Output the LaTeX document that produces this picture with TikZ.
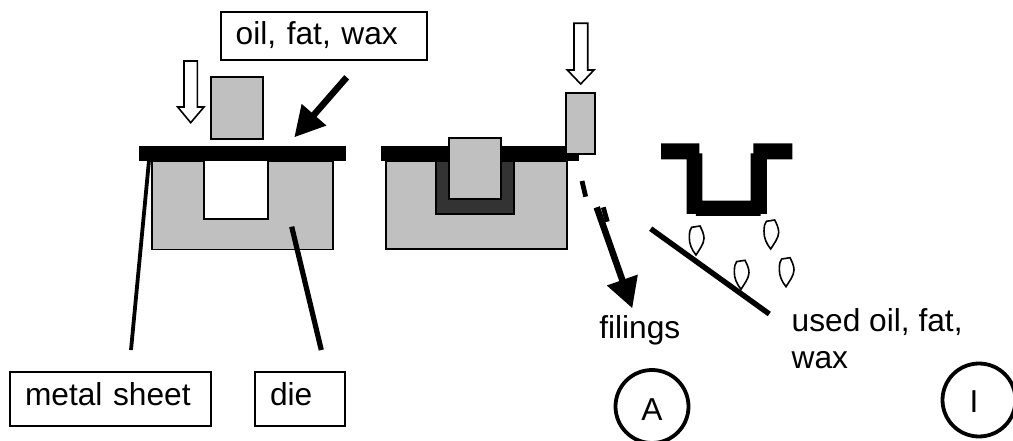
\documentclass[tikz,border=0pt]{standalone}
\usepackage{fontspec}
\setmainfont{Liberation Sans}
\usetikzlibrary{arrows.meta}
\definecolor{partgray}{HTML}{C0C0C0}
\definecolor{darkfill}{HTML}{333333}
\tikzset{
  part/.style={draw=black,line width=1.7pt,fill=partgray,line join=miter},
  solidbar/.style={fill=black,draw=none},
  hollowarrow/.style={draw=black,line width=1.6pt,fill=white,line join=miter},
  labelbox/.style={draw=black,line width=2pt,inner xsep=0pt,inner ysep=0pt,outer sep=0pt,align=left,font=\fontsize{31.7}{37}\selectfont},
  plain/.style={inner sep=0pt,outer sep=0pt,font=\fontsize{31.7}{37}\selectfont},
  stepcircle/.style={draw=black,line width=3.8pt,circle,inner sep=0pt,minimum size=73pt,font=\fontsize{31.7}{37}\selectfont},
  leader/.style={line width=3.8pt,draw=black},
  leaderthick/.style={line width=5.2pt,draw=black},
  boldarrow/.style={line width=6.5pt,draw=black,-{Triangle[length=30pt,width=31pt]}},
  thinbar/.style={line width=4.8pt,draw=black},
  drop/.pic={\draw[line width=1.6pt,fill=white] (0,0) .. controls (-4,-5) and (-7,-11) .. (-6.7,-18) .. controls (-6.5,-23) and (-6,-26) .. (-4.3,-27.7) -- (4,-29) .. controls (6,-25) and (8,-21) .. (8,-16.7) .. controls (8,-11) and (3,-5) .. (0,0) -- cycle;}
}
\begin{document}
\begin{tikzpicture}[x=1pt,y=-1pt]
\clip (0,0) rectangle (1013,441);
\fill[white] (0,0) rectangle (1013,441);
% labels
\node[labelbox,text width=206.6pt,text height=33pt,text depth=15pt,anchor=north west] (oil) at (220.7,12) {\hspace*{15pt}oil, fat, wax};
\node[labelbox,text width=201.3pt,text height=33.3pt,text depth=21pt,anchor=north west] (metal) at (10,371.7) {\hspace*{15pt}metal sheet};
\node[labelbox,text width=90.3pt,text height=33.3pt,text depth=21pt,anchor=north west] (die) at (255,371.7) {\hspace*{15pt}die};
\node[plain,anchor=base west] (filings) at (599.3,338.3) {filings};
\node[plain,anchor=base west] (used1) at (791.7,331) {used oil, fat,};
\node[plain,anchor=base west] (used2) at (791.7,368.3) {wax};
\node[stepcircle,text height=27pt,text depth=0pt] (stepA) at (652,406.5) {A};
\node[stepcircle,text height=25.4pt,text depth=0pt] (stepI) at (979,400) {I\kern10pt};
% left die
\draw[part] (152.3,161) rectangle (332.7,249.5);
\draw[line width=1.7pt,fill=white] (203.7,158) rectangle (268.3,219.3);
\coordinate (metalTop) at (150,150);
\coordinate (metalEnd) at (131,350);
\coordinate (dieTop) at (291.7,226.7);
\coordinate (dieEnd) at (321.3,350);
\draw[leader] (metalTop) -- (metalEnd);
\draw[leaderthick] (dieTop) -- (dieEnd);
\fill[solidbar] (139.3,145.7) rectangle (345.7,161);
\draw[part] (210.7,77) rectangle (263.3,139);
\draw[hollowarrow] (184,61) -- (197.3,61) -- (197.3,107) -- (204,107) -- (190.7,122.7) -- (177.7,107) -- (184,107) -- cycle;
\coordinate (oilFrom) at (346.7,77.3);
\coordinate (oilTip) at (294.3,137.3);
\draw[boldarrow] (oilFrom) -- (oilTip);
% middle die
\draw[part] (385.7,161) rectangle (566.7,249.3);
\fill[solidbar] (380.7,145.7) rectangle (579.3,161);
\draw[draw=black,line width=1.7pt,fill=darkfill] (436,161) rectangle (514,214.3);
\draw[part] (449,137.7) rectangle (500.7,199);
\draw[part] (566,93) rectangle (595.3,154.3);
\draw[hollowarrow] (574,23.3) -- (587.7,23.3) -- (587.7,70) -- (594,70) -- (580.7,84) -- (567.3,70) -- (574,70) -- cycle;
% filings
\coordinate (dashA) at (582,181);
\coordinate (dashB) at (585.7,196.7);
\coordinate (dashC) at (603.3,207.3);
\coordinate (dashD) at (607.3,221.7);
\coordinate (filFrom) at (596.7,207.3);
\coordinate (filTip) at (632.3,308.3);
\draw[thinbar] (dashA) -- (dashB);
\draw[thinbar] (dashC) -- (dashD);
\draw[boldarrow] (filFrom) -- (filTip);
% stamped part
\begin{scope}[shift={(630,130)},x=0.3333pt,y=-0.3333pt]
\fill[solidbar] (93,40) -- (208,40) -- (208,70) -- (217,70) -- (217,212) -- (362,212) -- (362,70) -- (370,70) -- (370,40) -- (487,40) -- (487,88) -- (411,88) -- (411,252) -- (392,252) -- (392,258) -- (198,258) -- (198,252) -- (170,252) -- (170,88) -- (93,88) -- cycle;
\end{scope}
\foreach \p in {(696,255),(741,289.3),(770.7,249),(786,286.7)} \path \p pic {drop};
\coordinate (chuteA) at (650.7,228.7);
\coordinate (chuteB) at (769.3,314);
\draw[line width=5.4pt] (chuteA) -- (chuteB);
\end{tikzpicture}
\end{document}
